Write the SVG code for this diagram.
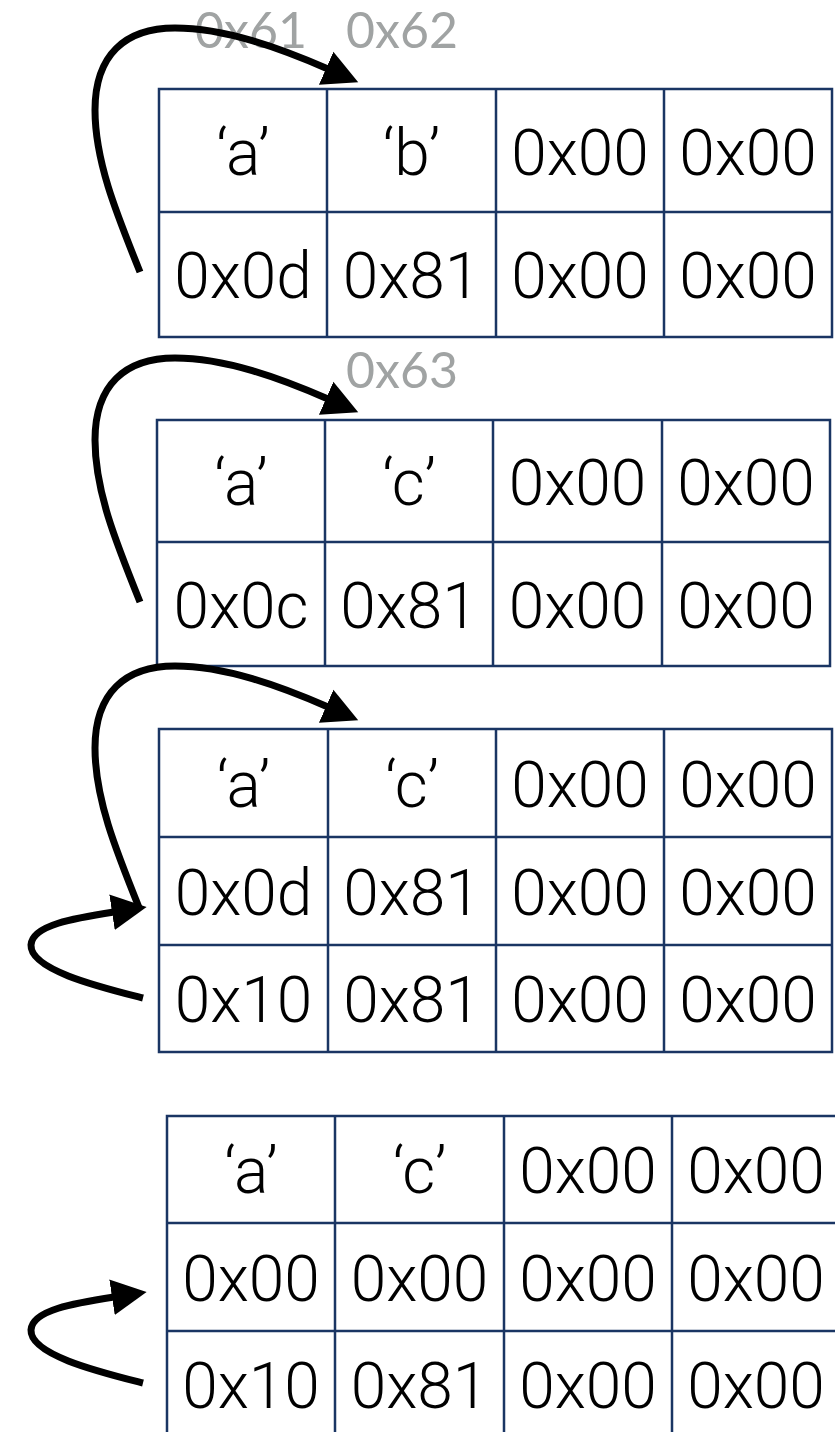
<svg xmlns="http://www.w3.org/2000/svg" width="835" height="1432" viewBox="0 0 835 1432">
<style>
.grid{fill:none;stroke:#1a3563;stroke-width:2.5}
.cell{font-family:Roboto,"Liberation Sans",sans-serif;font-weight:300;font-size:64px;text-anchor:middle;fill:#000}
.lbl{font-family:Lato,"Open Sans","Liberation Sans",sans-serif;font-size:50px;fill:#a0a3a3}
.arr{fill:none;stroke:#000;stroke-width:7;marker-end:url(#head)}
</style>
<defs>
<marker id="head" markerUnits="userSpaceOnUse" markerWidth="42" markerHeight="42" viewBox="0 -21 42 42" refX="2" refY="0" orient="auto">
<path d="M0,-18 L35,0 L0,18 Z" fill="#000"/>
</marker>
</defs>
<rect width="835" height="1432" fill="#fff"/>

<g id="table1">
<rect class="grid" x="159" y="89" width="673" height="248"/>
<path class="grid" d="M159,212H832M327,89V337M496,89V337M664,89V337"/>
<text class="cell" x="243" y="175">‘a’</text>
<text class="cell" x="411.5" y="175">‘b’</text>
<text class="cell" x="580" y="175">0x00</text>
<text class="cell" x="748" y="175">0x00</text>
<text class="cell" x="243" y="298">0x0d</text>
<text class="cell" x="411.5" y="298">0x81</text>
<text class="cell" x="580" y="298">0x00</text>
<text class="cell" x="748" y="298">0x00</text>
</g>

<g id="table2">
<rect class="grid" x="157" y="420" width="673" height="246"/>
<path class="grid" d="M157,542H830M325,420V666M493,420V666M662,420V666"/>
<text class="cell" x="241" y="505">‘a’</text>
<text class="cell" x="409" y="505">‘c’</text>
<text class="cell" x="577.5" y="505">0x00</text>
<text class="cell" x="746" y="505">0x00</text>
<text class="cell" x="241" y="628">0x0c</text>
<text class="cell" x="409" y="628">0x81</text>
<text class="cell" x="577.5" y="628">0x00</text>
<text class="cell" x="746" y="628">0x00</text>
</g>

<g id="table3">
<rect class="grid" x="159" y="729" width="673" height="323"/>
<path class="grid" d="M159,837H832M159,945H832M328,729V1052M496,729V1052M664,729V1052"/>
<text class="cell" x="243.5" y="807">‘a’</text>
<text class="cell" x="412" y="807">‘c’</text>
<text class="cell" x="580" y="807">0x00</text>
<text class="cell" x="748" y="807">0x00</text>
<text class="cell" x="243.5" y="915">0x0d</text>
<text class="cell" x="412" y="915">0x81</text>
<text class="cell" x="580" y="915">0x00</text>
<text class="cell" x="748" y="915">0x00</text>
<text class="cell" x="243.5" y="1022">0x10</text>
<text class="cell" x="412" y="1022">0x81</text>
<text class="cell" x="580" y="1022">0x00</text>
<text class="cell" x="748" y="1022">0x00</text>
</g>

<g id="table4">
<rect class="grid" x="167" y="1116" width="673" height="322"/>
<path class="grid" d="M167,1223H840M167,1331H840M335,1116V1438M504,1116V1438M672,1116V1438"/>
<text class="cell" x="251" y="1193">‘a’</text>
<text class="cell" x="419.5" y="1193">‘c’</text>
<text class="cell" x="588" y="1193">0x00</text>
<text class="cell" x="756" y="1193">0x00</text>
<text class="cell" x="251" y="1301">0x00</text>
<text class="cell" x="419.5" y="1301">0x00</text>
<text class="cell" x="588" y="1301">0x00</text>
<text class="cell" x="756" y="1301">0x00</text>
<text class="cell" x="251" y="1408">0x10</text>
<text class="cell" x="419.5" y="1408">0x81</text>
<text class="cell" x="588" y="1408">0x00</text>
<text class="cell" x="756" y="1408">0x00</text>
</g>

<g id="labels">
<text class="lbl" x="195" y="48">0x61</text>
<text class="lbl" x="346" y="48">0x62</text>
<text class="lbl" x="346" y="388">0x63</text>
</g>

<g id="connectors">
<path class="arr" d="M140,272 C115,210 95,160 95,110 C95,55 125,28 175,28 C225,28 280,48 328,69"/>
<path class="arr" transform="translate(0,330)" d="M140,272 C115,210 95,160 95,110 C95,55 125,28 175,28 C225,28 280,48 328,69"/>
<path class="arr" transform="translate(0,638)" d="M140,272 C115,210 95,160 95,110 C95,55 125,28 175,28 C225,28 280,48 328,69"/>
<path class="arr" d="M143,998 C100,987 30,970 31,945 C32,925 75,918 114,912"/>
<path class="arr" transform="translate(0,385)" d="M143,998 C100,987 30,970 31,945 C32,925 75,918 114,912"/>
</g>
</svg>
